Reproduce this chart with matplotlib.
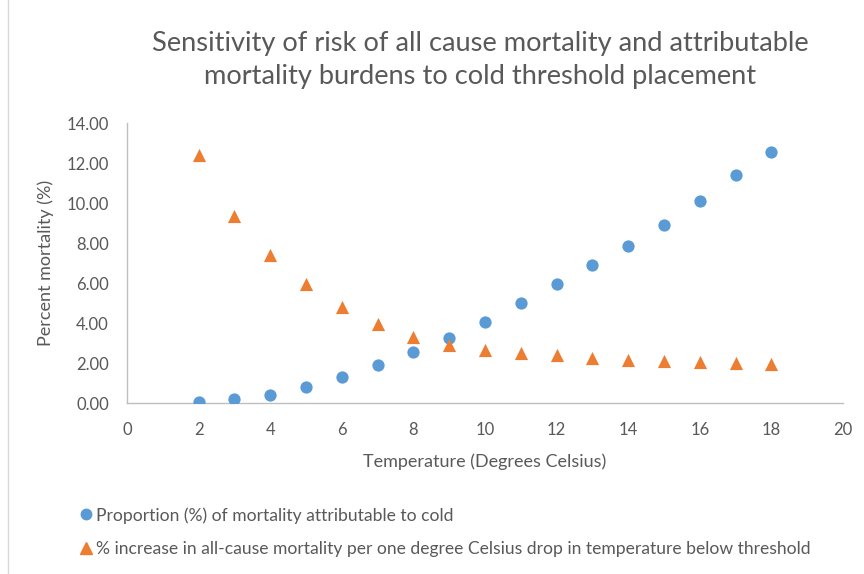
import matplotlib.pyplot as plt
from matplotlib.lines import Line2D

# 数据: 温度阈值 与 两组百分比
temps = [2, 3, 4, 5, 6, 7, 8, 9, 10, 11, 12, 13, 14, 15, 16, 17, 18]
prop_cold = [0.05, 0.18, 0.40, 0.78, 1.30, 1.90, 2.57, 3.27, 4.07, 5.00,
             5.95, 6.88, 7.85, 8.88, 10.10, 11.38, 12.57]
pct_increase = [12.40, 9.36, 7.40, 5.97, 4.79, 3.96, 3.31, 2.90, 2.66, 2.51,
                2.38, 2.26, 2.17, 2.10, 2.06, 2.02, 1.97]

label_blue = "Proportion (%) of mortality attributable to cold"
label_orange = "% increase in all-cause mortality per one degree Celsius drop in temperature below threshold"
x_ticks = [0, 2, 4, 6, 8, 10, 12, 14, 16, 18, 20]
y_ticks = [0, 2, 4, 6, 8, 10, 12, 14]

plt.rcParams['font.family'] = ['Lato', 'DejaVu Sans']
text_col = '#595959'
blue = '#5b9bd5'
orange = '#ed7d31'

fig = plt.figure(figsize=(8.64, 5.74), dpi=100)
ax = fig.add_axes([127/864, 1 - 403/574, (843-127)/864, (403-123)/574])

ax.scatter(temps, prop_cold, s=78, color=blue, marker='o', linewidths=0, zorder=3)
ax.scatter(temps, pct_increase, s=90, color=orange, marker='^', linewidths=0, zorder=3)

ax.set_xlim(0, 20)
ax.set_ylim(0, 14)
ax.set_xticks(x_ticks)
ax.set_yticks(y_ticks)
ax.set_yticklabels([f"{v:.2f}" for v in y_ticks])
ax.tick_params(length=0, labelsize=12, colors=text_col)
ax.tick_params(axis='x', pad=14)
ax.tick_params(axis='y', pad=13)

for side in ['top', 'right']:
    ax.spines[side].set_visible(False)
for side in ['left', 'bottom']:
    ax.spines[side].set_color('#bfbfbf')
    ax.spines[side].set_linewidth(1.0)

ax.set_xlabel("Temperature (Degrees Celsius)", fontsize=13, color=text_col, labelpad=11)
ax.set_ylabel("Percent mortality (%)", fontsize=13, color=text_col, labelpad=9)

fig.text(480/864, 1 - 60/574,
         "Sensitivity of risk of all cause mortality and attributable\nmortality burdens to cold threshold placement",
         ha='center', va='center', fontsize=19.6, color=text_col, linespacing=1.42)

# 图例 (放在底部, 两行)
handles = [Line2D([], [], marker='o', color=blue, linestyle='none', markersize=7.5),
           Line2D([], [], marker='^', color=orange, linestyle='none', markersize=8.5)]
fig.legend(handles, [label_blue, label_orange], loc='upper left',
           bbox_to_anchor=(70/864, 1 - 500/574), frameon=False, fontsize=12.6,
           labelcolor=text_col, handletextpad=0.1, handlelength=1.0,
           labelspacing=1.0, borderaxespad=0)

# 图表左边框
fig.add_artist(Line2D([8/864, 8/864], [0, 1], color='#d9d9d9', linewidth=1.0))

fig.savefig("out.png", dpi=100)
